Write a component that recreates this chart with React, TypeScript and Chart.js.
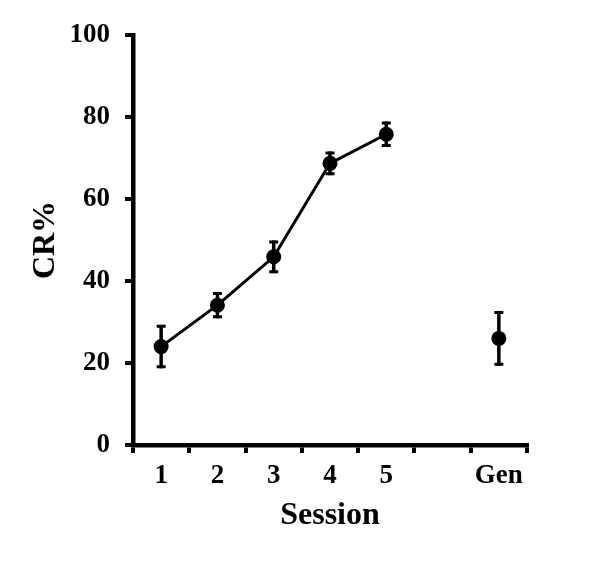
import React, { useEffect, useRef } from "react";
import { Chart, registerables } from "chart.js";

Chart.register(...registerables);

const categories = ["1", "2", "3", "4", "5", "", "Gen"];
const sessionMeans = [24, 34.1, 45.9, 68.7, 75.8, null, null];
const sessionErrors = [5.3, 3.2, 4.0, 2.9, 3.1, null, null];
const genMeans = [null, null, null, null, null, null, 26];
const genErrors = [null, null, null, null, null, null, 6.7];
const yMin = 0;
const yMax = 100;
const yStep = 20;
const yTitle = "CR%";
const xTitle = "Session";

const FONT = "'Liberation Serif', 'Times New Roman', serif";

const errorLists = [sessionErrors, genErrors];

const errorBarPlugin = {
  id: "errorBars",
  beforeDatasetsDraw(chart: any) {
    const { ctx } = chart;
    const xs = chart.scales.x;
    const ys = chart.scales.y;
    ctx.save();
    ctx.strokeStyle = "#000";
    ctx.lineCap = "butt";
    chart.data.datasets.forEach((ds: any, di: number) => {
      const errs = errorLists[di];
      ds.data.forEach((v: number | null, i: number) => {
        if (v == null || errs[i] == null) return;
        const e = errs[i] as number;
        const px = xs.getPixelForValue(i);
        const top = ys.getPixelForValue(v + e);
        const bot = ys.getPixelForValue(v - e);
        ctx.lineWidth = 3.5;
        ctx.beginPath();
        ctx.moveTo(px, top);
        ctx.lineTo(px, bot);
        ctx.stroke();
        ctx.lineWidth = 3;
        ctx.beginPath();
        ctx.moveTo(px - 4.5, top + 1.5);
        ctx.lineTo(px + 4.5, top + 1.5);
        ctx.moveTo(px - 4.5, bot - 1.5);
        ctx.lineTo(px + 4.5, bot - 1.5);
        ctx.stroke();
      });
    });
    ctx.restore();
  },
};

export default function App() {
  const ref = useRef<HTMLCanvasElement>(null);
  useEffect(() => {
    if (!ref.current) return;
    const chart = new Chart(ref.current, {
      type: "line",
      data: {
        labels: categories,
        datasets: [
          {
            data: sessionMeans,
            borderColor: "#000",
            backgroundColor: "#000",
            borderWidth: 3,
            pointRadius: 7.5,
            pointHoverRadius: 7.5,
            pointBackgroundColor: "#000",
            pointBorderWidth: 0,
            spanGaps: false,
            tension: 0,
          },
          {
            data: genMeans,
            borderColor: "#000",
            backgroundColor: "#000",
            borderWidth: 3,
            showLine: false,
            pointRadius: 7.5,
            pointHoverRadius: 7.5,
            pointBackgroundColor: "#000",
            pointBorderWidth: 0,
          },
        ],
      },
      options: {
        responsive: false,
        animation: false,
        events: [],
        layout: { padding: { top: 35, right: 74, left: 0, bottom: 0 } },
        plugins: { legend: { display: false }, tooltip: { enabled: false } },
        scales: {
          x: {
            type: "category",
            offset: true,
            afterFit(scale: any) {
              scale.height = 142;
            },
            grid: {
              offset: true,
              drawOnChartArea: false,
              drawTicks: true,
              tickLength: 8,
              lineWidth: 4,
              color: "#000",
            },
            border: { display: true, color: "#000", width: 4.5 },
            ticks: {
              color: "#000",
              padding: 7,
              maxRotation: 0,
              autoSkip: false,
              font: { family: FONT, size: 27, weight: "bold" },
            },
            title: {
              display: true,
              text: xTitle,
              color: "#000",
              font: { family: FONT, size: 32, weight: "bold" },
              padding: { top: 0, bottom: 52 },
            },
          },
          y: {
            min: yMin,
            max: yMax,
            afterFit(scale: any) {
              scale.width = 133;
            },
            grid: {
              drawOnChartArea: false,
              drawTicks: true,
              tickLength: 8,
              lineWidth: 4,
              color: "#000",
            },
            border: { display: true, color: "#000", width: 4.5 },
            ticks: {
              stepSize: yStep,
              color: "#000",
              padding: 15,
              font: { family: FONT, size: 27, weight: "bold" },
            },
            title: {
              display: true,
              text: yTitle,
              color: "#000",
              font: { family: FONT, size: 32, weight: "bold" },
              padding: { top: 27, bottom: 0 },
            },
          },
        },
      },
      plugins: [errorBarPlugin],
    } as any);
    return () => chart.destroy();
  }, []);
  return (
    <div style={{ position: "fixed", left: 0, top: 0, width: 601, height: 587, background: "#fff" }}>
      <canvas ref={ref} width={601} height={587} style={{ display: "block" }} />
    </div>
  );
}
